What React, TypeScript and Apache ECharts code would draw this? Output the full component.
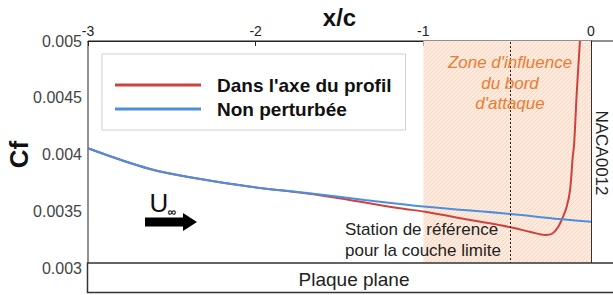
import React, { useEffect, useRef } from "react";
import * as echarts from "echarts";

const FONT = "'Liberation Sans', Arial, Helvetica, sans-serif";

// Non perturbée (blue)
const blueX = [-3, -2.63, -2.33, -2.03, -1.68, -1.35, -1.0, -0.48, -0.19, 0];
const blueCf = [0.004055, 0.003872, 0.003784, 0.003716, 0.003658, 0.0036, 0.003542, 0.003476, 0.003432, 0.003408];

// Dans l'axe du profil (red)
const redX = [-3, -2.63, -2.33, -2.03, -1.68, -1.44, -1.14, -0.99, -0.72, -0.48, -0.36, -0.27, -0.23, -0.2, -0.175, -0.145, -0.125, -0.109, -0.101, -0.084, -0.066];
const redCf = [0.004055, 0.003872, 0.003784, 0.003716, 0.003655, 0.0036, 0.003526, 0.003496, 0.003423, 0.003359, 0.003317, 0.003291, 0.003304, 0.003352, 0.003423, 0.00354, 0.003687, 0.003978, 0.004084, 0.004568, 0.005];

const seriesNames = ["Dans l'axe du profil", "Non perturbée"];
const zoneRange = [-1, 0];
const stationX = -0.48;
const xRange = [-3, 0];
const yRange = [0.003, 0.005];

function makeHatch(): HTMLCanvasElement {
  const c = document.createElement("canvas");
  c.width = 4;
  c.height = 4;
  const ctx = c.getContext("2d")!;
  ctx.fillStyle = "#fdeadd";
  ctx.fillRect(0, 0, 4, 4);
  ctx.strokeStyle = "#f7d6c1";
  ctx.lineWidth = 0.9;
  ctx.beginPath();
  ctx.moveTo(0, 4);
  ctx.lineTo(4, 0);
  ctx.moveTo(-1, 1);
  ctx.lineTo(1, -1);
  ctx.moveTo(3, 5);
  ctx.lineTo(5, 3);
  ctx.stroke();
  return c;
}

export default function App() {
  const ref = useRef<HTMLDivElement>(null);
  useEffect(() => {
    if (!ref.current) return;
    const chart = echarts.init(ref.current, undefined, { renderer: "svg" });
    const hatch = makeHatch();
    const option: any = {
      animation: false,
      backgroundColor: "#fff",
      textStyle: { fontFamily: FONT },
      grid: {
        left: 88,
        right: 22,
        top: 41,
        bottom: 27,
        containLabel: false,
        outerBoundsMode: "none",
        show: true,
        borderColor: "#222",
        borderWidth: 1,
        backgroundColor: "transparent",
      },
      legend: {
        data: seriesNames,
        orient: "vertical",
        left: 102,
        top: 54,
        padding: [20, 14, 10, 13],
        itemGap: 2,
        itemWidth: 86,
        itemHeight: 3,
        icon: "rect",
        backgroundColor: "#fff",
        borderColor: "#cfcfcf",
        borderWidth: 1,
        textStyle: {
          fontFamily: FONT,
          fontSize: 19,
          fontWeight: "bold",
          color: "#111",
          lineHeight: 22,
          padding: [0, 0, 0, 11],
        },
      },
      xAxis: {
        type: "value",
        position: "top",
        min: xRange[0],
        max: xRange[1],
        interval: 1,
        name: "x/c",
        nameLocation: "middle",
        nameGap: 12,
        nameMoveOverlap: false,
        nameTextStyle: { fontFamily: FONT, fontSize: 24, fontWeight: "bold", color: "#111" },
        axisLine: { show: true, lineStyle: { color: "#222", width: 1 } },
        axisTick: { show: true, inside: true, length: 5, lineStyle: { color: "#222" } },
        axisLabel: { fontFamily: FONT, fontSize: 14, color: "#222", margin: 3 },
        splitLine: { show: false },
      },
      yAxis: {
        type: "value",
        min: yRange[0],
        max: yRange[1],
        interval: 0.0005,
        name: "Cf",
        nameLocation: "middle",
        nameGap: 56,
        nameMoveOverlap: false,
        nameTextStyle: { fontFamily: FONT, fontSize: 26, fontWeight: "bold", color: "#111" },
        axisLine: { show: true, lineStyle: { color: "#333", width: 1 } },
        axisTick: { show: true, inside: false, length: 4, lineStyle: { color: "#333" } },
        axisLabel: { fontFamily: FONT, fontSize: 16, color: "#444", margin: 6 },
        splitLine: { show: false },
      },
      series: [
        {
          name: seriesNames[0],
          type: "line",
          data: redX.map((x, i) => [x, redCf[i]]),
          smooth: 0.35,
          symbol: "none",
          lineStyle: { color: "#d0403c", width: 2 },
          itemStyle: { color: "#d0403c" },
          z: 3,
          markArea: {
            silent: true,
            itemStyle: { color: { image: hatch, repeat: "repeat" } },
            data: [[{ xAxis: zoneRange[0] }, { xAxis: zoneRange[1] }]],
          },
          markLine: {
            silent: true,
            symbol: "none",
            label: { show: false },
            lineStyle: { color: "#222", type: [2, 2], width: 1 },
            data: [{ xAxis: stationX }],
          },
        },
        {
          name: seriesNames[1],
          type: "line",
          data: blueX.map((x, i) => [x, blueCf[i]]),
          smooth: 0.35,
          symbol: "none",
          lineStyle: { color: "#4a8fe0", width: 2 },
          itemStyle: { color: "#4a8fe0" },
          z: 4,
        },
      ],
      graphic: [
        {
          type: "line",
          shape: { x1: 591, y1: 41, x2: 613, y2: 41 },
          style: { stroke: "#222", lineWidth: 1 },
          z: 10,
        },
        {
          type: "rect",
          shape: { x: 87.5, y: 263, width: 540, height: 29.5 },
          style: { fill: "#fff", stroke: "#333", lineWidth: 1.5 },
          z: 20,
        },
        {
          type: "text",
          x: 354,
          y: 279,
          style: { text: "Plaque plane", font: `19px ${FONT}`, fill: "#222", textAlign: "center", textVerticalAlign: "middle" },
          z: 21,
        },
        {
          type: "text",
          x: 601,
          y: 153,
          rotation: -Math.PI / 2,
          style: { text: "NACA0012", font: `17px ${FONT}`, fill: "#222", textAlign: "center", textVerticalAlign: "middle" },
          z: 21,
        },
        {
          type: "text",
          x: 510,
          y: 62,
          style: { text: "Zone d'influence", font: `italic 17px ${FONT}`, fill: "#f07a30", textAlign: "center", textVerticalAlign: "middle" },
          z: 21,
        },
        {
          type: "text",
          x: 510,
          y: 83,
          style: { text: "du bord", font: `italic 17px ${FONT}`, fill: "#f07a30", textAlign: "center", textVerticalAlign: "middle" },
          z: 21,
        },
        {
          type: "text",
          x: 510,
          y: 103,
          style: { text: "d'attaque", font: `italic 17px ${FONT}`, fill: "#f07a30", textAlign: "center", textVerticalAlign: "middle" },
          z: 21,
        },
        {
          type: "text",
          x: 345,
          y: 229,
          style: { text: "Station de référence", font: `17px ${FONT}`, fill: "#222", textAlign: "left", textVerticalAlign: "middle" },
          z: 21,
        },
        {
          type: "text",
          x: 345,
          y: 250,
          style: { text: "pour la couche limite", font: `17px ${FONT}`, fill: "#222", textAlign: "left", textVerticalAlign: "middle" },
          z: 21,
        },
        {
          type: "text",
          x: 159,
          y: 203,
          style: { text: "U", font: `26px ${FONT}`, fill: "#111", textAlign: "center", textVerticalAlign: "middle" },
          z: 21,
        },
        {
          type: "text",
          x: 172,
          y: 212,
          style: { text: "∞", font: `bold 12px ${FONT}`, fill: "#111", textAlign: "center", textVerticalAlign: "middle" },
          z: 21,
        },
        {
          type: "polygon",
          shape: {
            points: [
              [145, 217.5],
              [183, 217.5],
              [183, 213],
              [197, 222],
              [183, 231],
              [183, 226.5],
              [145, 226.5],
            ],
          },
          style: { fill: "#000" },
          z: 21,
        },
      ],
    };
    chart.setOption(option);
    return () => chart.dispose();
  }, []);
  return (
    <div
      ref={ref}
      style={{ position: "absolute", left: 0, top: 0, width: 613, height: 295 }}
    />
  );
}
